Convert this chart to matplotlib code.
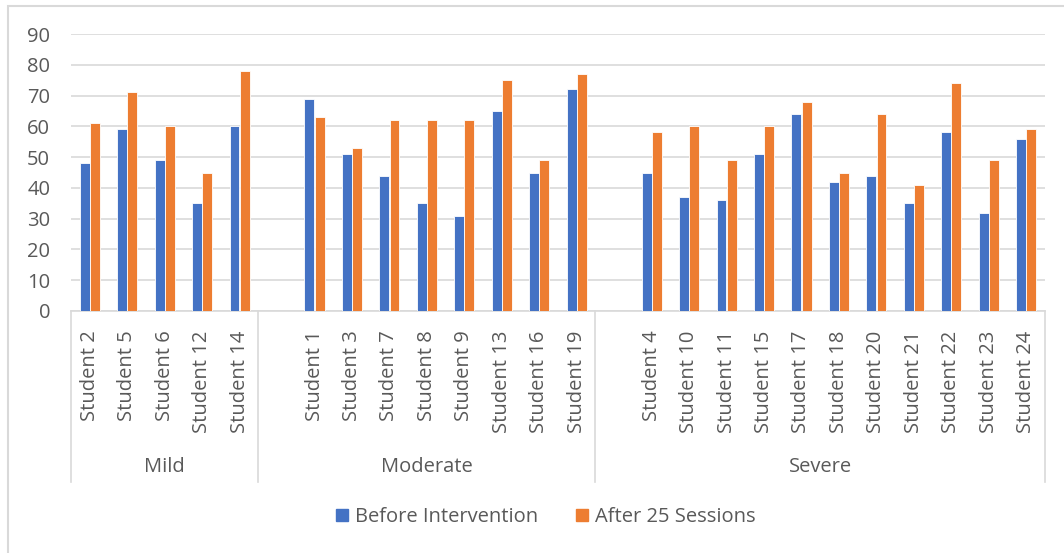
import matplotlib.pyplot as plt
import matplotlib.transforms as mtransforms
from matplotlib.patches import Patch, Rectangle

# data
groups = ['Mild', 'Moderate', 'Severe']
mild_students = ['Student 2', 'Student 5', 'Student 6', 'Student 12', 'Student 14']
mild_before = [48, 59, 49, 35, 60]
mild_after = [61, 71, 60, 45, 78]

moderate_students = ['Student 1', 'Student 3', 'Student 7', 'Student 8',
                     'Student 9', 'Student 13', 'Student 16', 'Student 19']
moderate_before = [69, 51, 44, 35, 31, 65, 45, 72]
moderate_after = [63, 53, 62, 62, 62, 75, 49, 77]

severe_students = ['Student 4', 'Student 10', 'Student 11', 'Student 15',
                   'Student 17', 'Student 18', 'Student 20', 'Student 21',
                   'Student 22', 'Student 23', 'Student 24']
severe_before = [45, 37, 36, 51, 64, 42, 44, 35, 58, 32, 56]
severe_after = [58, 60, 49, 60, 68, 45, 64, 41, 74, 49, 59]

series_names = ['Before Intervention', 'After 25 Sessions']
blue = '#4472C4'
orange = '#ED7D31'
grey_txt = '#595959'
grid_c = '#D9D9D9'
fs = 14.5

fig = plt.figure(figsize=(10.64, 5.53), dpi=100)
ax = fig.add_axes([71 / 1064, (553 - 311) / 553, (1045 - 71) / 1064, 277 / 553])

# slot positions: an empty slot opens each group after the first
group_data = [(mild_students, mild_before, mild_after),
              (moderate_students, moderate_before, moderate_after),
              (severe_students, severe_before, severe_after)]
positions, labels, before, after = [], [], [], []
bounds = []
pos = 0
for gi, (names, b, a) in enumerate(group_data):
    start = pos
    if gi > 0:
        pos += 1
    for n, vb, va in zip(names, b, a):
        positions.append(pos)
        labels.append(n)
        before.append(vb)
        after.append(va)
        pos += 1
    bounds.append((start - 0.5, pos - 0.5))

w = 0.265
off = 0.135
ax.bar([p - off for p in positions], before, width=w, color=blue,
       edgecolor='white', linewidth=0.6, zorder=3)
ax.bar([p + off for p in positions], after, width=w, color=orange,
       edgecolor='white', linewidth=0.6, zorder=3)

ax.set_xlim(-0.5, pos - 0.5)
ax.set_ylim(0, 90)
ax.set_yticks(range(0, 91, 10))
ax.yaxis.grid(True, color=grid_c, linewidth=1.2, zorder=0)
ax.set_axisbelow(True)
for s in ['top', 'right', 'left']:
    ax.spines[s].set_visible(False)
ax.spines['bottom'].set_color(grid_c)
ax.spines['bottom'].set_linewidth(1.2)

ax.tick_params(axis='y', length=0, pad=15, labelsize=fs, labelcolor=grey_txt)
ax.set_xticks(positions)
ax.set_xticklabels(labels, rotation=90, fontsize=fs, color=grey_txt,
                   va='top', ha='center')
ax.tick_params(axis='x', length=0, pad=14)
for t in ax.get_yticklabels() + ax.get_xticklabels():
    t.set_fontfamily('Open Sans')

# group boxes below the axis
trans = mtransforms.blended_transform_factory(ax.transData, ax.transAxes)
line_bottom = -(482 - 311) / 277
edges = [bounds[0][0]] + [b[1] for b in bounds]
for e in edges:
    ax.plot([e, e], [0, line_bottom], transform=trans, color=grid_c,
            linewidth=1.2, clip_on=False)
for g, (lo, hi) in zip(groups, bounds):
    ax.text((lo + hi) / 2, -(467 - 311) / 277, g, transform=trans,
            ha='center', va='center', fontsize=fs, color=grey_txt,
            family='Open Sans')

handles = [Patch(color=blue), Patch(color=orange)]
fig.legend(handles, series_names, loc='center',
           bbox_to_anchor=(546 / 1064, (553 - 517) / 553), ncol=2,
           frameon=False, handlelength=0.6, handleheight=0.6,
           handletextpad=0.35, columnspacing=1.85,
           prop={'family': 'Open Sans', 'size': fs}, labelcolor=grey_txt)

# chart border (right and bottom edges fall outside the image)
fig.add_artist(Rectangle((8 / 1064, -0.05), 1.2, (553 - 6) / 553 + 0.05,
                         transform=fig.transFigure, fill=False,
                         edgecolor=grid_c, linewidth=1.5))

fig.savefig('out.png', dpi=100, facecolor='white')
